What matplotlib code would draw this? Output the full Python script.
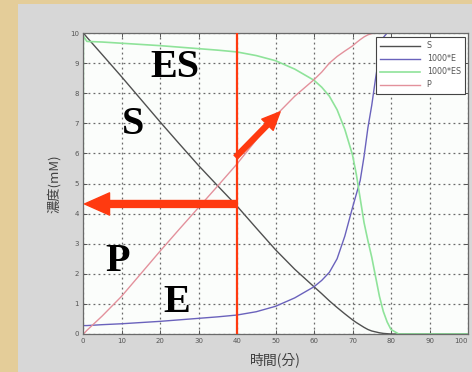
import matplotlib
matplotlib.use("Agg")
import matplotlib.pyplot as plt
from matplotlib.patches import Rectangle
from matplotlib.transforms import ScaledTranslation

# time axis (minutes)
t = [0, 0.1, 1, 5, 10, 15, 20, 25, 30, 35, 40, 45, 50, 55, 60, 62, 64, 66, 68,
     70, 71, 72, 73, 74, 75, 76, 77, 78, 79, 80, 82, 85, 90, 95, 100]

# substrate concentration (mM)
s_conc = [10, 10, 9.86, 9.28, 8.55, 7.8, 7.05, 6.32, 5.6, 4.92, 4.25, 3.52, 2.8,
          2.15, 1.57, 1.34, 1.1, 0.88, 0.67, 0.47, 0.38, 0.3, 0.22, 0.15, 0.1,
          0.07, 0.04, 0.02, 0.01, 0, 0, 0, 0, 0, 0]

# free enzyme x1000
e_conc = [0.28, 0.28, 0.28, 0.31, 0.34, 0.38, 0.42, 0.47, 0.52, 0.57, 0.63, 0.74,
          0.92, 1.2, 1.57, 1.78, 2.05, 2.5, 3.25, 4.2, 4.65, 5.1, 5.9, 6.85, 7.6,
          8.5, 9.3, 9.85, 10, 10, 10, 10, 10, 10, 10]

# enzyme-substrate complex x1000
es_conc = [0, 9.9, 9.72, 9.7, 9.66, 9.62, 9.58, 9.53, 9.48, 9.43, 9.37, 9.25,
           9.08, 8.8, 8.43, 8.2, 7.9, 7.45, 6.8, 5.95, 5.3, 4.5, 3.7, 3.1, 2.55,
           1.9, 1.25, 0.75, 0.4, 0.15, 0, 0, 0, 0, 0]

# product concentration (mM)
p_conc = [0, 0, 0.12, 0.6, 1.25, 2.0, 2.75, 3.48, 4.2, 4.92, 5.65, 6.45, 7.25,
          7.9, 8.45, 8.7, 9.0, 9.22, 9.4, 9.57, 9.68, 9.78, 9.87, 9.94, 9.98,
          10, 10, 10, 10, 10, 10, 10, 10, 10, 10]

series_labels = ["S", "1000*E", "1000*ES", "P"]
x_ticks = [0, 10, 20, 30, 40, 50, 60, 70, 80, 90, 100]
y_ticks = [0, 1, 2, 3, 4, 5, 6, 7, 8, 9, 10]

# marker time and the concentration it points to
t_mark = 40
y_mark = 4.32
arrow_up_tail = (39.7, 5.88)
arrow_up_tip = (51.2, 7.38)

cjk = ["Noto Sans CJK TC", "DejaVu Sans"]

W, H = 472, 372
fig = plt.figure(figsize=(W / 100, H / 100), dpi=100)
fig.patch.set_facecolor("#e4cd99")
fig.add_artist(Rectangle((18 / W, 0), 1, (H - 4) / H, transform=fig.transFigure,
                         facecolor="#d7d7d7", edgecolor="none", zorder=0))

ax = fig.add_axes([83 / W, (H - 334) / H, (468 - 83) / W, (334 - 33) / H])
ax.set_facecolor("#fbfdfb")

ax.plot(t, s_conc, color="#505050", lw=1.0, label=series_labels[0])
ax.plot(t, e_conc, color="#6a62bc", lw=1.0, label=series_labels[1])
ax.plot(t, es_conc, color="#8fe39a", lw=1.2, label=series_labels[2])
ax.plot(t, p_conc, color="#e3919c", lw=1.0, label=series_labels[3])

ax.set_xlim(0, 100)
ax.set_ylim(0, 10)
ax.set_xticks(x_ticks)
ax.set_yticks(y_ticks)
ax.tick_params(direction="in", length=3, width=0.7, labelsize=5, colors="#555555",
               top=True, right=True, pad=3)
# keep the last x tick label inside the figure
last = ax.get_xticklabels()[-1]
last.set_transform(last.get_transform() + ScaledTranslation(-5 / 72, 0, fig.dpi_scale_trans))

ax.grid(True, color="#6a6a6a", linestyle=(0, (1.5, 2.5)), lw=0.9)
for sp in ax.spines.values():
    sp.set_color("#6a6a6a")
    sp.set_linewidth(0.9)

ax.set_xlabel("時間(分)", family=cjk, fontsize=10, color="#404040", labelpad=6)
ax.set_ylabel("濃度(mM)", family=cjk, fontsize=9.5, color="#404040", labelpad=6)

leg = ax.legend(loc="upper right", bbox_to_anchor=(0.993, 0.987), borderaxespad=0,
                fontsize=5.8, handlelength=5.0, labelspacing=0.5, borderpad=0.55,
                handletextpad=0.8, fancybox=False, framealpha=1, edgecolor="#444444")
leg.get_frame().set_linewidth(0.8)
for txt in leg.get_texts():
    txt.set_color("#555555")

# bold species labels
lab_kw = dict(family="Liberation Serif", fontweight="bold", fontsize=29,
              color="black", ha="center", va="center")
ax.text(23.9, 8.84, "ES", **lab_kw)
ax.text(13.0, 6.95, "S", **lab_kw)
ax.text(9.1, 2.4, "P", **lab_kw)
ax.text(24.4, 1.06, "E", **lab_kw)

red = "#ff3a10"
ax.axvline(t_mark, color=red, lw=1.6, zorder=5)
ax.annotate("", xy=(0.4, y_mark), xytext=(t_mark, y_mark),
            arrowprops=dict(arrowstyle="simple,head_length=18,head_width=16,tail_width=5",
                            mutation_scale=1, color=red, shrinkA=0, shrinkB=0),
            zorder=6)
ax.annotate("", xy=arrow_up_tip, xytext=arrow_up_tail,
            arrowprops=dict(arrowstyle="simple,head_length=13,head_width=11.5,tail_width=3.6",
                            mutation_scale=1, color=red, shrinkA=0, shrinkB=0),
            zorder=6)

fig.savefig("out.png", dpi=100, facecolor=fig.get_facecolor())
